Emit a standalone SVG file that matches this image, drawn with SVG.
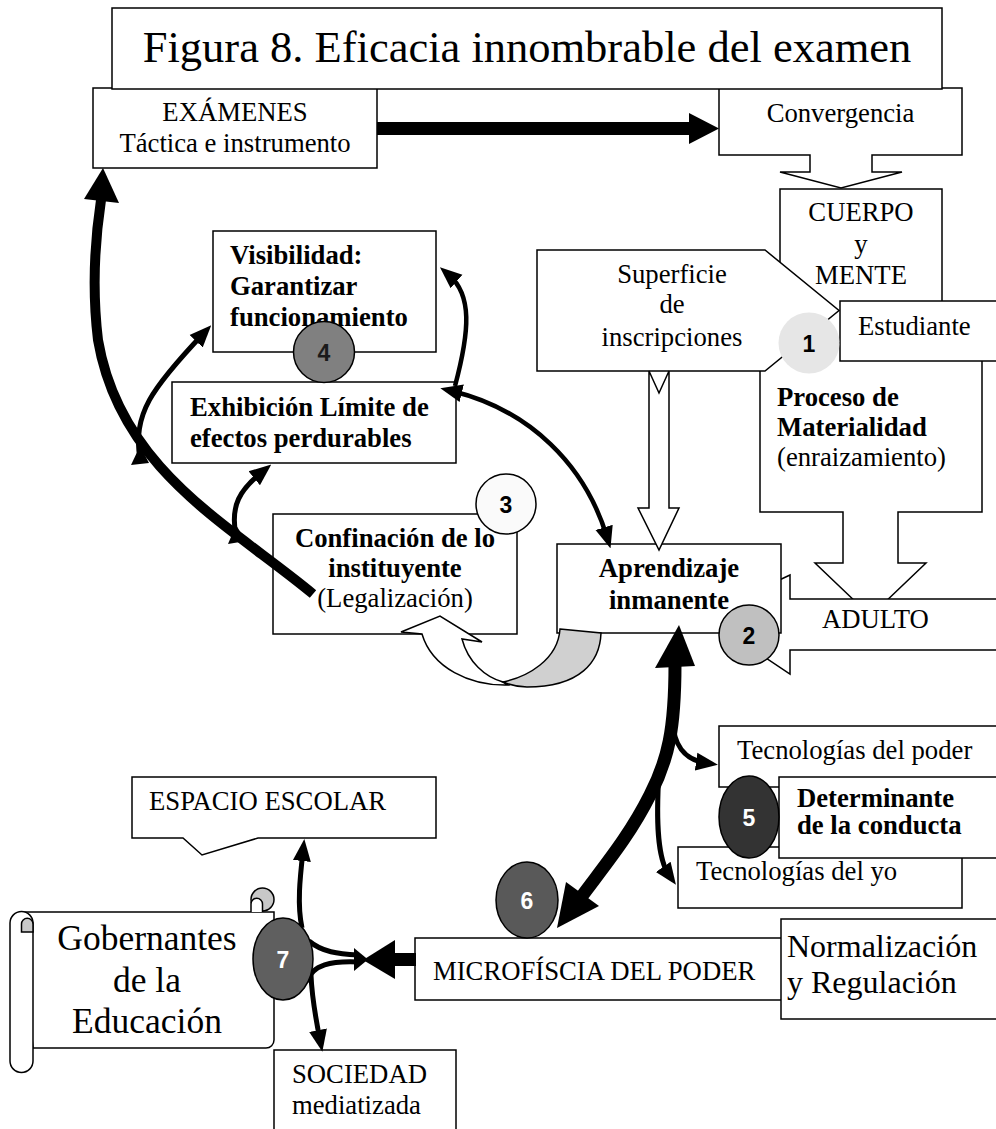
<svg xmlns="http://www.w3.org/2000/svg" width="996" height="1129" viewBox="0 0 996 1129">
<style>
.b{fill:#fff;stroke:#000;stroke-width:1.5}
.t{font-family:"Liberation Serif","Times New Roman",serif;font-size:26.7px;fill:#000}
.bd{font-weight:bold}
.m{text-anchor:middle}
.c{fill:none;stroke:#000;stroke-width:5}
.k{fill:#000;stroke:none}
.n{font-family:"Liberation Sans",Arial,sans-serif;font-size:23px;font-weight:bold;text-anchor:middle}
</style>
<defs>
<marker id="ah" markerUnits="userSpaceOnUse" markerWidth="22" markerHeight="20" viewBox="0 0 22 20" refX="10" refY="10" orient="auto-start-reverse"><path d="M0,1 L22,10 L0,19 Z" fill="#000"/></marker>
</defs>
<rect width="996" height="1129" fill="#fff"/>

<g id="examenes">
<rect class="b" x="93" y="88" width="284" height="80"/>
<text class="t m" x="235" y="121">EXÁMENES</text>
<text class="t m" x="235" y="152">Táctica e instrumento</text>
</g>
<g id="convergencia">
<path class="b" d="M719,88 H962 V155 H872 V172 H902 L841,188 L780,172 H810 V155 H719 Z"/>
<text class="t m" x="840.5" y="122">Convergencia</text>
</g>
<g id="titulo">
<rect class="b" x="112" y="8" width="830" height="81"/>
<text class="t m" x="527" y="62" style="font-size:44.5px">Figura 8. Eficacia innombrable del examen</text>
</g>

<g id="cuerpo">
<rect class="b" x="780" y="189" width="162" height="154"/>
<text class="t m" x="861" y="221">CUERPO</text>
<text class="t m" x="861" y="252.5">y</text>
<text class="t m" x="861" y="284">MENTE</text>
</g>
<g id="proceso">
<path class="b" d="M760,343 H982 V512 H898 V563 H926 L870.5,616 L815,563 H843 V512 H760 Z"/>
<text class="t bd" x="777" y="406">Proceso de</text>
<text class="t bd" x="777" y="436">Materialidad</text>
<text class="t" x="777" y="466">(enraizamiento)</text>
</g>
<g id="superficie">
<path class="b" d="M537,250 H765 L839,310.5 L765,371 H537 Z"/>
<text class="t m" x="672" y="283">Superficie</text>
<text class="t m" x="672" y="313">de</text>
<text class="t m" x="672" y="346">inscripciones</text>
</g>
<g id="estudiante">
<rect class="b" x="840" y="301" width="170" height="60"/>
<text class="t" x="858" y="335">Estudiante</text>
</g>

<g id="adulto">
<path class="b" d="M1010,599 H790 V575 L703,616 L790,674 V650 H1010 Z"/>
<text class="t" x="822" y="628">ADULTO</text>
</g>
<g id="aprendizaje">
<rect class="b" x="557" y="544" width="224" height="89"/>
<text class="t bd m" x="669" y="577">Aprendizaje</text>
<text class="t bd m" x="669" y="609">inmanente</text>
</g>

<g id="visibilidad">
<rect class="b" x="213" y="231" width="223" height="121"/>
<text class="t bd" x="230" y="264">Visibilidad:</text>
<text class="t bd" x="230" y="295">Garantizar</text>
<text class="t bd" x="230" y="326">funcionamiento</text>
</g>
<g id="exhibicion">
<rect class="b" x="172" y="382" width="284" height="81"/>
<text class="t bd" x="190" y="416">Exhibición Límite de</text>
<text class="t bd" x="190" y="447">efectos perdurables</text>
</g>
<g id="confinacion">
<rect class="b" x="273" y="514" width="244" height="120"/>
<text class="t bd m" x="395" y="547">Confinación de lo</text>
<text class="t bd m" x="395" y="577">instituyente</text>
<text class="t m" x="395" y="607">(Legalización)</text>
</g>

<g id="tec-poder">
<rect class="b" x="719" y="726" width="291" height="61"/>
<text class="t" x="737" y="759">Tecnologías del poder</text>
</g>
<g id="tec-yo">
<rect class="b" x="678" y="847" width="284" height="61"/>
<text class="t" x="696" y="880">Tecnologías del yo</text>
</g>
<g id="determinante">
<rect class="b" x="779" y="777" width="231" height="81"/>
<text class="t bd" x="797" y="807">Determinante</text>
<text class="t bd" x="797" y="834">de la conducta</text>
</g>

<g id="microfisica">
<rect class="b" x="415" y="938" width="375" height="62"/>
<text class="t" x="433" y="980">MICROFÍSCIA DEL PODER</text>
</g>
<g id="normalizacion">
<rect class="b" x="781" y="919" width="229" height="100"/>
<text class="t" x="787" y="957" style="font-size:32px">Normalización</text>
<text class="t" x="787" y="993" style="font-size:32px">y Regulación</text>
</g>

<g id="espacio">
<path class="b" d="M132,777 H436 V838 H258 L202,855 L183,838 H132 Z"/>
<text class="t" x="149" y="810">ESPACIO ESCOLAR</text>
</g>
<g id="gobernantes">
<path class="b" d="M20,912 H274 V1040 A8 8 0 0 1 266,1048 H33 Z"/>
<rect class="b" x="10" y="911.5" width="23" height="161" rx="11.5" ry="11.5"/>
<path d="M21.5,932 V924 A5.75 5.75 0 0 1 33,924 V932 Z" fill="#c8c8c8" stroke="#000" stroke-width="1.5"/>
<circle cx="262.5" cy="899.5" r="11.5" fill="#c8c8c8" stroke="#000" stroke-width="1.5"/>
<path d="M251,912 V904 A5.75 5.75 0 0 1 262.5,904 V912" fill="#fff" stroke="#000" stroke-width="1.5"/>
<text class="t m" x="147" y="950" style="font-size:35.5px">Gobernantes</text>
<text class="t m" x="147" y="992" style="font-size:35.5px">de la</text>
<text class="t m" x="147" y="1033" style="font-size:35.5px">Educación</text>
</g>
<g id="sociedad">
<rect class="b" x="274" y="1050" width="182" height="90"/>
<text class="t" x="292" y="1083">SOCIEDAD</text>
<text class="t" x="292" y="1114">mediatizada</text>
</g>

<g id="connectors">
<rect class="k" x="377" y="122" width="313" height="13"/>
<polygon class="k" points="689,113 719,128.5 689,144"/>
<path class="b" d="M649,371 V508 H638 L659,550 L679,508 H669 V371 L659,393 Z"/>
<path d="M401,632 L440,616 L482,642 L462,639 C468,662 485,677 503,682 L508,685 C470,686 432,668 422,634 Z" fill="#fff" stroke="#000" stroke-width="1.5"/>
<path d="M560,629 L601,633 C600,662 580,687 527,687 C518,687 510,685 503,682 C527,677 558,660 560,629 Z" fill="#d0d0d0" stroke="#000" stroke-width="1.5"/>
<path d="M313,594 C230,525 120,470 98,340 C92,290 95,240 101,200" fill="none" stroke="#000" stroke-width="10"/>
<polygon class="k" points="103,168 84,199 119,203"/>
<path class="c" d="M140,458 C132,415 152,388 203,334" marker-end="url(#ah)"/>
<polygon class="k" points="131,465 140,446 149,463"/>
<path class="c" d="M236,536 C230,505 240,490 262,472" marker-end="url(#ah)"/>
<polygon class="k" points="228,544 236,525 246,541"/>
<path class="c" d="M449,275 C472,295 470,330 455,386" marker-start="url(#ah)" style="stroke-width:4.5"/>
<path class="c" d="M452,391 C530,410 585,465 607,537" marker-start="url(#ah)" marker-end="url(#ah)" style="stroke-width:4.5"/>
<path d="M675,664 C675,730 668,760 650,795 C630,835 605,865 582,896" fill="none" stroke="#000" stroke-width="13"/>
<polygon class="k" points="679,625 655,668 695,666"/>
<polygon class="k" points="557,928 566,882 599,906"/>
<path class="c" d="M673,716 C672,745 685,760 706,763" marker-end="url(#ah)"/>
<path class="c" d="M659,772 C656,820 657,858 669,875" marker-end="url(#ah)"/>
<rect class="k" x="394" y="953" width="22" height="13"/>
<polygon class="k" points="395,940 363,960 395,979"/>
<polygon class="k" points="354,948 368,959.5 354,971"/>
<path class="c" d="M309,941 C322,952 338,954 358,955"/>
<path class="c" d="M307,982 C312,964 332,961 358,962"/>
<path class="c" d="M302,928 C297,905 300,878 303,851" marker-end="url(#ah)"/>
<path class="c" d="M311,975 C312,1000 316,1020 320,1040" marker-end="url(#ah)"/>
</g>

<g id="badge-1"><circle cx="809" cy="343" r="30.5" fill="#e6e6e6"/><text class="n" x="809" y="351.5">1</text></g>
<g id="badge-2"><circle cx="749" cy="635" r="30" fill="#c0c0c0" stroke="#000" stroke-width="1.5"/><text class="n" x="749" y="643.5">2</text></g>
<g id="badge-3"><circle cx="506" cy="504" r="30" fill="#fafafa" stroke="#000" stroke-width="1.5"/><text class="n" x="506" y="512.5">3</text></g>
<g id="badge-4"><circle cx="324" cy="352" r="30.5" fill="#808080" stroke="#000" stroke-width="1.5"/><text class="n" x="324" y="360.5" fill="#1a1a1a">4</text></g>
<g id="badge-5"><ellipse cx="749" cy="817" rx="30" ry="41" fill="#333" stroke="#000" stroke-width="1.5"/><text class="n" x="749" y="825.5" fill="#fff">5</text></g>
<g id="badge-6"><ellipse cx="527" cy="900" rx="31" ry="38" fill="#595959" stroke="#000" stroke-width="1.5"/><text class="n" x="527" y="908.5" fill="#fff">6</text></g>
<g id="badge-7"><ellipse cx="283" cy="959" rx="30" ry="41" fill="#5f5f5f" stroke="#000" stroke-width="1.5"/><text class="n" x="283" y="967.5" fill="#fff">7</text></g>
</svg>
